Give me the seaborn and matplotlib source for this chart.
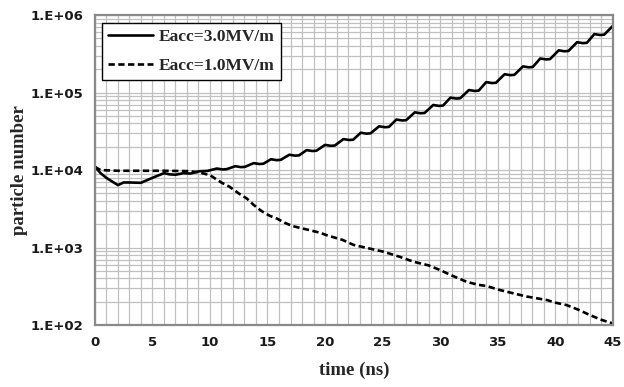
import matplotlib
matplotlib.use("Agg")
import matplotlib.pyplot as plt
from matplotlib.ticker import MultipleLocator, LogLocator, FixedLocator, NullFormatter
import seaborn as sns
import pandas as pd

# ---- data ----
t_30 = [0.0, 0.5, 1.0, 2.0, 2.5, 3.0, 4.0, 5.0, 6.0, 6.5, 7.0, 7.7, 8.3, 9.1, 9.8,
        10.6, 11.1, 11.45, 12.2, 12.7, 13.05, 13.8, 14.3, 14.65, 15.3, 15.8, 16.15,
        16.9, 17.4, 17.75, 18.4, 18.9, 19.25, 20.0, 20.5, 20.85, 21.6, 22.1, 22.45,
        23.1, 23.6, 23.95, 24.7, 25.2, 25.55, 26.2, 26.7, 27.05, 27.8, 28.3, 28.65,
        29.4, 29.9, 30.25, 30.9, 31.4, 31.75, 32.5, 33.0, 33.35, 34.0, 34.5, 34.85,
        35.6, 36.1, 36.45, 37.2, 37.7, 38.05, 38.7, 39.2, 39.55, 40.3, 40.8, 41.15,
        41.9, 42.4, 42.75, 43.4, 43.9, 44.25, 45.0]
n_30 = [11100, 9120, 7940, 6400, 6920, 6920, 6850, 7940, 9120, 8810, 8710, 9120, 9020, 9660, 9770,
        10470, 10190, 10280, 11220, 10920, 11020, 12300, 11970, 12080, 13800, 13430, 13550,
        15780, 15350, 15500, 18110, 17620, 17780, 21130, 20560, 20750, 25120, 24440, 24670,
        30340, 29520, 29790, 36730, 35740, 36070, 44870, 43660, 44060, 55590, 54090, 54590,
        69180, 67310, 67930, 86100, 83780, 84550, 107900, 105000, 106000, 136500, 132800, 134000,
        172600, 167900, 169500, 217800, 211900, 213900, 275400, 268000, 270400, 350800, 341300, 344500,
        446700, 434600, 438700, 568900, 553500, 558700, 724400]

t_10 = [0.0, 0.5, 2.0, 4.0, 6.0, 8.0, 9.0, 10.0, 11.0, 11.7, 12.5, 13.2, 13.8, 14.5, 15.2,
        15.8, 16.5, 17.2, 18.5, 19.6, 20.1, 21.5, 22.5, 23.5, 25.1, 26.5, 27.7, 29.0, 30.0,
        31.0, 32.3, 33.3, 34.1, 35.0, 36.4, 37.5, 39.3, 40.0, 41.0, 42.0, 43.0, 44.0, 45.0]
n_10 = [11000, 10000, 9800, 9800, 9800, 9700, 9400, 8600, 6900, 6100, 5000, 4300, 3550, 2950, 2570,
        2380, 2090, 1890, 1700, 1550, 1450, 1260, 1080, 1000, 883, 759, 656, 589, 513,
        437, 362, 331, 318, 288, 256, 234, 210, 195, 181, 158, 135, 117, 105]

series_labels = ["Eacc=3.0MV/m", "Eacc=1.0MV/m"]
y_ticks = [1e2, 1e3, 1e4, 1e5, 1e6]
y_tick_labels = ["1.E+02", "1.E+03", "1.E+04", "1.E+05", "1.E+06"]
x_ticks = [0, 5, 10, 15, 20, 25, 30, 35, 40, 45]
x_label = "time (ns)"
y_label = "particle number"

# ---- plot ----
sns.set_style("white")
plt.rcParams["font.family"] = ["DejaVu Sans"]

fig = plt.figure(figsize=(6.24, 3.87), dpi=100)
ax = fig.add_axes([0.152, 0.160, 0.830, 0.801])

df30 = pd.DataFrame({"t": t_30, "n": n_30})
df10 = pd.DataFrame({"t": t_10, "n": n_10})

sns.lineplot(data=df30, x="t", y="n", ax=ax, color="black", linewidth=1.9,
             label=series_labels[0], sort=False)
sns.lineplot(data=df10, x="t", y="n", ax=ax, color="black", linewidth=1.9,
             linestyle=(0, (2.4, 1.3)), label=series_labels[1], sort=False)

ax.set_yscale("log")
ax.set_xlim(0, 45)
ax.set_ylim(1e2, 1e6)

ax.yaxis.set_major_locator(FixedLocator(y_ticks))
ax.set_yticklabels(y_tick_labels)
ax.yaxis.set_minor_locator(LogLocator(base=10, subs=[2, 3, 4, 5, 6, 7, 8, 9]))
ax.yaxis.set_minor_formatter(NullFormatter())
ax.xaxis.set_major_locator(FixedLocator(x_ticks))
ax.set_xticklabels([str(v) for v in x_ticks])
ax.xaxis.set_minor_locator(MultipleLocator(1))

grid_c = "#c0c0c0"
ax.grid(True, which="major", color=grid_c, linewidth=0.9)
ax.grid(True, which="minor", color=grid_c, linewidth=0.9)
ax.set_axisbelow(True)

for s in ax.spines.values():
    s.set_color("#8a8a8a")
    s.set_linewidth(1.6)

ax.tick_params(axis="both", which="major", length=4, width=1.2, color="#8a8a8a",
               labelsize=9.5, pad=4)
ax.tick_params(axis="both", which="minor", length=0)
for lab in ax.get_xticklabels() + ax.get_yticklabels():
    lab.set_fontweight("bold")
    lab.set_color("#1a1a1a")

serif = ["Liberation Serif", "DejaVu Serif"]
ax.set_xlabel(x_label, fontsize=13.5, fontweight="bold", family=serif, labelpad=9)
ax.set_ylabel(y_label, fontsize=13.5, fontweight="bold", family=serif, labelpad=2)

leg = ax.legend(loc="upper left", bbox_to_anchor=(0.0135, 0.974), borderaxespad=0,
                prop={"family": serif, "weight": "bold", "size": 12.5},
                frameon=True, fancybox=False, edgecolor="black", framealpha=1,
                handlelength=2.6, handletextpad=0.35, borderpad=0.35, labelspacing=0.7)
leg.get_frame().set_linewidth(1.0)

fig.savefig("out.png", dpi=100)
